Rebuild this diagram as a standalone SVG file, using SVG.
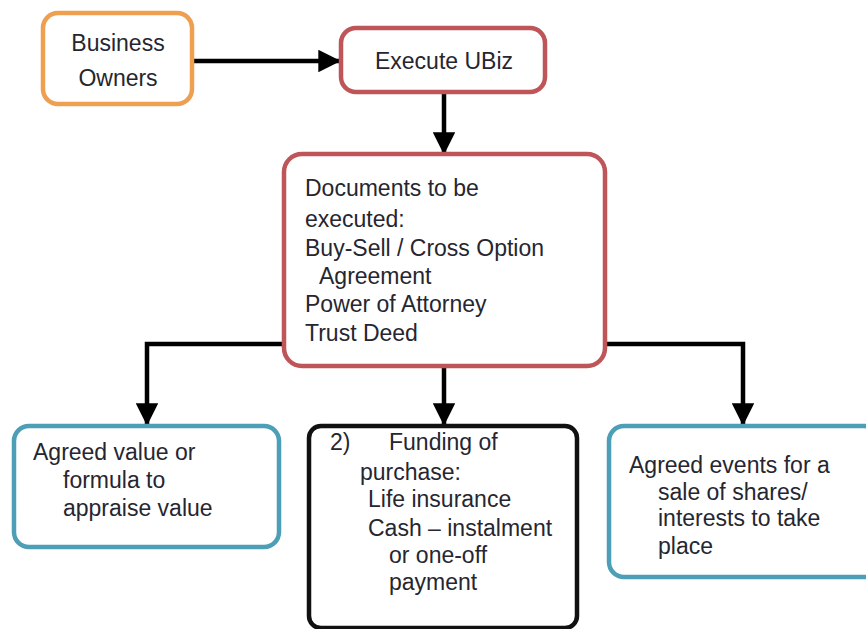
<svg xmlns="http://www.w3.org/2000/svg" width="866" height="629" viewBox="0 0 866 629">
<style>
.box{fill:#fff;stroke-width:4.5}
.orange{stroke:#EE9F4F}
.red{stroke:#BD5559}
.teal{stroke:#4C9FB6}
.black{stroke:#111}
text{font-family:"Liberation Sans",Arial,sans-serif;font-size:23px;fill:#262630}
.c{text-anchor:middle}
.conn{fill:none;stroke:#000;stroke-width:4.5}
</style>
<defs>
<marker id="ah" markerWidth="5" markerHeight="5" refX="4.6" refY="2.5" orient="auto" markerUnits="strokeWidth">
<path d="M0,0 L5,2.5 L0,5 Z" fill="#000"/>
</marker>
</defs>
<rect width="866" height="629" fill="#fff"/>
<g id="connectors">
<path class="conn" d="M193,61 H339" marker-end="url(#ah)"/>
<path class="conn" d="M444,92 V153" marker-end="url(#ah)"/>
<path class="conn" d="M283,344 H147 V424" marker-end="url(#ah)"/>
<path class="conn" d="M444,367 V424" marker-end="url(#ah)"/>
<path class="conn" d="M605,344 H743 V424" marker-end="url(#ah)"/>
</g>
<g id="business-owners">
<rect class="box orange" x="43" y="13" width="149" height="91" rx="15"/>
<text class="c" x="118" y="51">Business</text>
<text class="c" x="118" y="86">Owners</text>
</g>
<g id="execute-ubiz">
<rect class="box red" x="341" y="28" width="204" height="64" rx="15"/>
<text class="c" x="444" y="69">Execute UBiz</text>
</g>
<g id="documents">
<rect class="box red" x="284" y="154" width="321" height="212" rx="18"/>
<text x="305" y="196">Documents to be</text>
<text x="305" y="227">executed:</text>
<text x="305" y="256">Buy-Sell / Cross Option</text>
<text x="319" y="284">Agreement</text>
<text x="305" y="312">Power of Attorney</text>
<text x="305" y="341">Trust Deed</text>
</g>
<g id="agreed-value">
<rect class="box teal" x="14" y="426" width="265" height="121" rx="15"/>
<text x="33" y="460">Agreed value or</text>
<text x="63" y="488">formula to</text>
<text x="63" y="516">appraise value</text>
</g>
<g id="funding">
<rect class="box black" x="309" y="426" width="268" height="202" rx="12"/>
<text x="330" y="450">2)</text>
<text x="389" y="450">Funding of</text>
<text x="360" y="480">purchase:</text>
<text x="368" y="507">Life insurance</text>
<text x="368" y="536">Cash – instalment</text>
<text x="389" y="563">or one-off</text>
<text x="389" y="590">payment</text>
</g>
<g id="agreed-events">
<rect class="box teal" x="609" y="426" width="270" height="151" rx="15"/>
<text x="629" y="473">Agreed events for a</text>
<text x="658" y="500">sale of shares/</text>
<text x="658" y="526">interests to take</text>
<text x="658" y="554">place</text>
</g>
</svg>
